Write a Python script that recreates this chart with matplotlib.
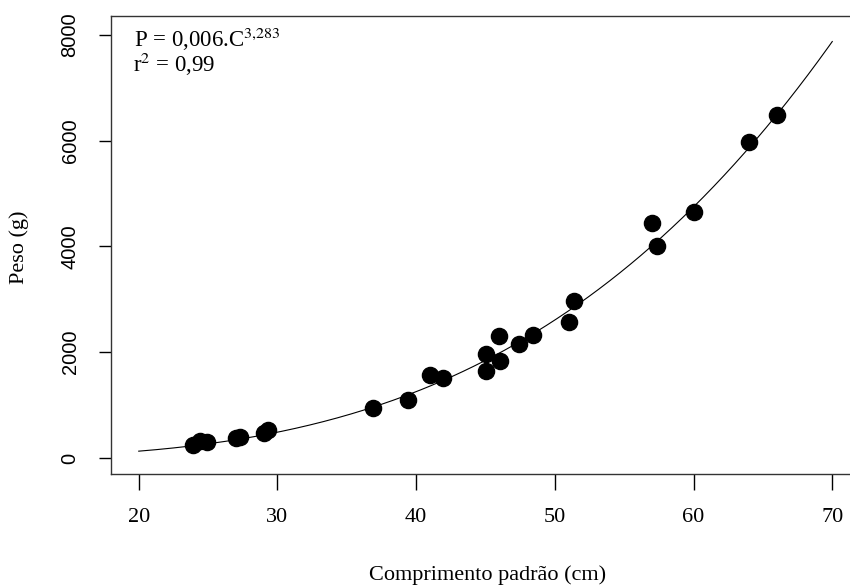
import numpy as np
import matplotlib.pyplot as plt

plt.rcParams['mathtext.fontset'] = 'stix'

# Comprimento padrão (cm) e peso (g)
comprimento = [23.9, 24.4, 24.9, 27.0, 27.3, 29.0, 29.3, 36.9, 39.4, 41.0, 41.9,
               45.0, 45.0, 46.0, 46.05, 47.4, 48.4, 51.0, 51.4, 57.0, 57.4,
               60.0, 64.0, 66.0]
peso = [246, 320, 303, 380, 397, 480, 530, 946, 1097, 1570, 1513,
        1967, 1645, 2307, 1834, 2156, 2326, 2572, 2970, 4444, 4009,
        4652, 5976, 6487]

# curva ajustada (como desenhada no gráfico)
coef_a = 0.0069
coef_b = 3.283
curva_x = np.linspace(20, 70, 200)

x_ticks = [20, 30, 40, 50, 60, 70]
y_ticks = [0, 2000, 4000, 6000, 8000]

fig = plt.figure(figsize=(8.5, 5.86), dpi=100)
ax = fig.add_axes([111 / 850, 112 / 586, 749 / 850, 458 / 586])

ax.plot(curva_x, coef_a * curva_x ** coef_b, color='black', linewidth=0.8)
ax.scatter(comprimento, peso, s=135, color='black', zorder=3)

ax.set_xlim(18, 72)
ax.set_ylim(-303, 8359)
ax.set_xticks(x_ticks)
ax.set_yticks(y_ticks)
ax.set_xticklabels([str(t) for t in x_ticks], family='Liberation Serif', fontsize=16)
ax.set_yticklabels([str(t) for t in y_ticks], family='Liberation Sans', fontsize=14.5,
                   rotation=90, va='center')
ax.tick_params(axis='x', length=11.5, width=1, pad=13)
ax.tick_params(axis='y', length=8.6, width=1, pad=14)
for s in ax.spines.values():
    s.set_linewidth(1)
    s.set_color('#333333')

fig.text(488 / 850, 1 - 575 / 586, 'Comprimento padrão (cm)', family='Liberation Serif',
         fontsize=16, ha='center', va='center')
fig.text(19 / 850, 1 - 247 / 586, 'Peso (g)', family='Liberation Serif',
         fontsize=16, ha='center', va='center', rotation=90)

fig.text(134 / 850, 1 - 39 / 586, r'P = 0,006.C$^{3{,}283}$', family='Liberation Serif',
         fontsize=16.5, ha='left', va='center')
fig.text(133 / 850, 1 - 64 / 586, r'r$^{2}$ = 0,99', family='Liberation Serif',
         fontsize=16.5, ha='left', va='center')

plt.savefig('out.png', dpi=100)
